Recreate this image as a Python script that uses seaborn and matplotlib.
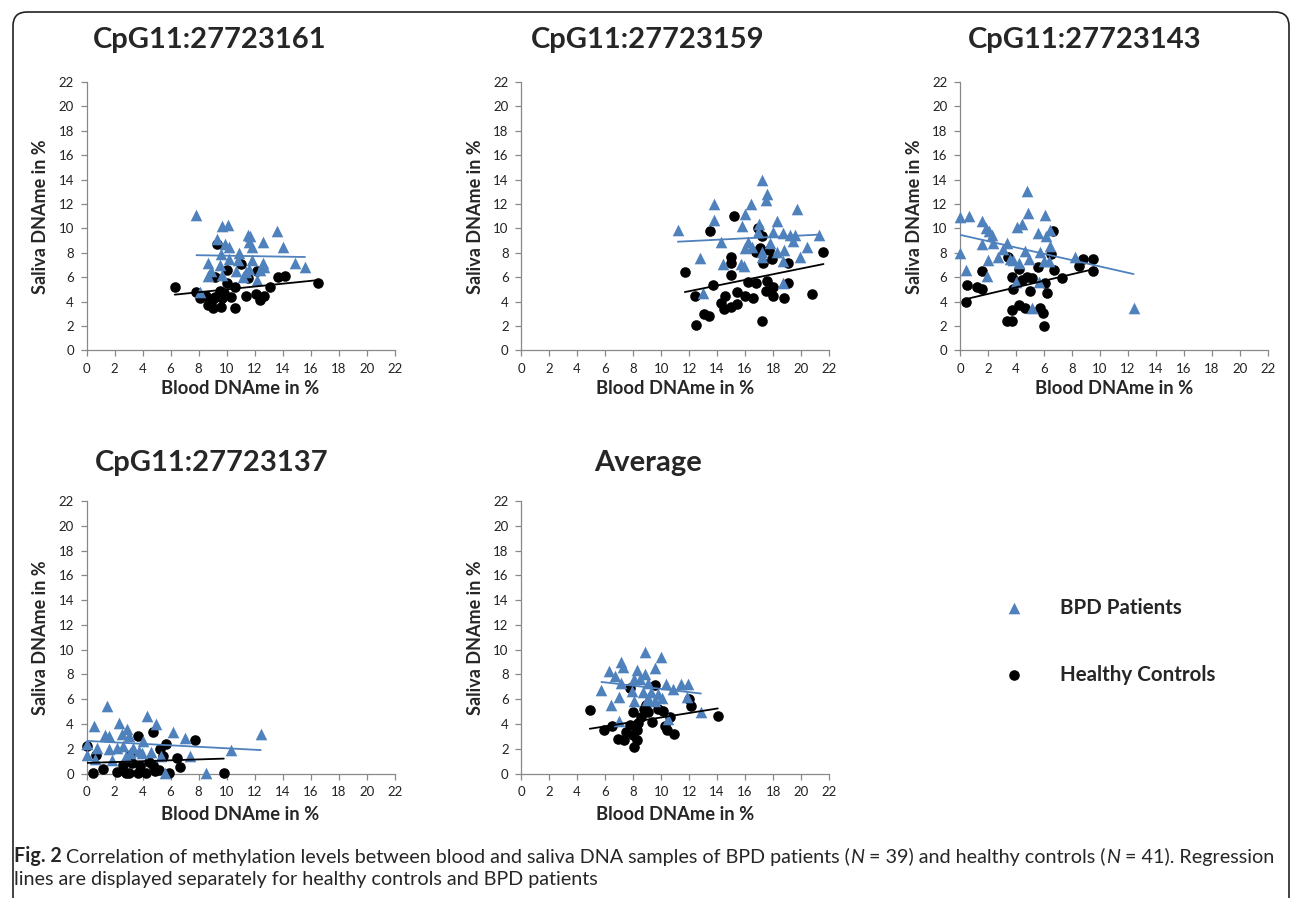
import matplotlib
matplotlib.use("Agg")
import matplotlib.pyplot as plt
from matplotlib.patches import FancyBboxPatch
import seaborn as sns

# ---- data (Blood DNAme %, Saliva DNAme %) ----
titles = ["CpG11:27723161", "CpG11:27723159", "CpG11:27723143", "CpG11:27723137", "Average"]

p1_bpd_x = [7.85, 9.7, 10.1, 11.5, 11.7, 13.6, 9.3, 9.9, 10.2, 11.6, 11.8, 12.6, 14.0, 9.6, 10.9, 8.7, 10.2,
            10.8, 11.8, 12.6, 14.9, 15.6, 8.9, 9.5, 10.7, 11.6, 12.7, 8.7, 9.7, 11.2, 11.4, 12.2, 8.1, 12.4]
p1_bpd_y = [11.1, 10.2, 10.3, 9.5, 9.4, 9.8, 9.1, 8.7, 8.5, 8.9, 8.5, 8.9, 8.5, 7.9, 8.0, 7.2, 7.5,
            7.4, 7.4, 7.2, 7.2, 6.8, 6.5, 7.0, 6.5, 6.7, 6.8, 6.1, 6.2, 6.0, 6.4, 5.8, 4.8, 6.6]
p1_hc_x = [6.3, 7.8, 8.1, 8.7, 9.0, 9.6, 9.2, 9.5, 9.8, 10.3, 10.6, 10.6, 10.0, 10.0, 9.3, 9.2, 11.0, 11.5,
           11.4, 12.1, 12.4, 12.7, 12.2, 13.1, 13.7, 14.2, 16.5, 8.5, 9.7, 9.0]
p1_hc_y = [5.2, 4.8, 4.3, 3.7, 3.5, 3.6, 4.4, 4.9, 4.7, 4.4, 5.2, 3.5, 5.5, 6.6, 8.7, 6.0, 7.1, 5.9,
           4.5, 4.6, 4.1, 4.5, 6.5, 5.2, 6.0, 6.1, 5.5, 4.5, 4.3, 4.25]

p2_bpd_x = [17.2, 17.6, 17.5, 13.8, 16.4, 19.7, 16.0, 13.8, 15.8, 17.0, 18.3, 11.2, 16.9, 18.0, 18.7, 19.2,
            19.6, 21.3, 14.3, 16.2, 17.8, 19.4, 20.4, 16.0, 16.5, 18.3, 18.8, 17.2, 19.9, 12.8, 14.4, 15.7,
            15.9, 17.2, 18.7, 18.7, 13.0]
p2_bpd_y = [14.0, 12.8, 12.3, 12.0, 12.0, 11.6, 11.2, 10.7, 10.2, 10.4, 10.6, 9.9, 9.7, 9.7, 9.6, 9.5,
            9.5, 9.5, 8.9, 8.9, 8.8, 9.0, 8.5, 8.4, 8.5, 8.1, 8.2, 8.1, 7.7, 7.6, 7.1, 7.1,
            6.9, 7.7, 7.3, 5.5, 4.7]
p2_hc_x = [15.2, 13.5, 16.9, 17.2, 16.8, 17.1, 17.7, 17.9, 17.3, 19.1, 21.6, 15.0, 15.0, 15.0, 11.7, 13.7,
           16.2, 16.8, 17.6, 19.1, 18.0, 17.5, 18.0, 18.8, 20.8, 16.6, 16.0, 15.4, 14.6, 12.4, 14.3, 14.5,
           15.0, 15.4, 13.1, 13.4, 12.5, 17.2]
p2_hc_y = [11.0, 9.8, 10.0, 9.4, 8.1, 8.4, 8.2, 7.5, 7.2, 7.2, 8.1, 7.7, 7.2, 6.2, 6.4, 5.4,
           5.6, 5.5, 5.7, 5.5, 5.2, 4.9, 4.5, 4.3, 4.6, 4.3, 4.5, 4.8, 4.5, 4.5, 3.9, 3.4,
           3.6, 3.8, 3.0, 2.8, 2.1, 2.4]

p3_bpd_x = [4.78, 0.0, 0.67, 4.88, 6.05, 1.6, 4.43, 4.07, 1.84, 2.1, 2.27, 6.46, 5.55, 6.15, 1.55, 2.39,
            3.35, 3.11, 6.41, 0.0, 4.62, 5.74, 2.75, 3.59, 4.95, 8.2, 2.03, 3.78, 4.23, 5.98, 6.39, 0.41,
            1.91, 4.02, 5.62, 5.14, 12.4]
p3_bpd_y = [13.1, 10.95, 11.0, 11.3, 11.1, 10.6, 10.4, 10.1, 10.0, 9.8, 9.5, 9.9, 9.6, 9.4, 8.7, 8.8,
            8.8, 8.3, 8.6, 7.96, 8.15, 8.1, 7.7, 7.5, 7.5, 7.65, 7.4, 7.4, 7.2, 7.3, 7.3, 6.6,
            6.1, 5.6, 5.6, 3.45, 3.45]
p3_hc_x = [6.65, 6.5, 3.4, 8.8, 9.5, 9.5, 8.5, 6.75, 4.19, 5.6, 1.55, 3.7, 4.78, 5.14, 7.3, 6.05,
           0.48, 1.2, 1.55, 3.78, 4.98, 6.2, 4.4, 0.43, 4.19, 4.67, 3.71, 5.7, 5.93, 3.35, 3.71, 6.0]
p3_hc_y = [9.8, 7.9, 7.7, 7.5, 7.5, 6.5, 6.9, 6.6, 6.7, 6.8, 6.5, 6.0, 6.06, 5.9, 5.9, 5.5,
           5.4, 5.2, 5.0, 5.0, 4.9, 4.7, 5.8, 4.0, 3.7, 3.5, 3.3, 3.5, 3.1, 2.4, 2.4, 2.0]

p4_bpd_x = [1.44, 4.3, 0.55, 2.32, 4.98, 2.87, 2.56, 6.17, 12.44, 1.32, 1.63, 3.06, 7.06, 4.02, 0.0, 0.72,
            1.63, 2.15, 2.63, 3.35, 3.71, 3.11, 4.6, 5.31, 7.42, 10.33, 0.0, 0.6, 1.79, 2.8, 3.95, 5.6, 8.56]
p4_bpd_y = [5.46, 4.65, 3.83, 4.05, 3.97, 3.56, 3.23, 3.37, 3.23, 3.13, 3.07, 3.0, 2.88, 2.6, 2.4, 2.07,
            1.98, 2.07, 2.2, 2.07, 1.8, 1.66, 1.7, 1.39, 1.39, 1.93, 1.52, 1.17, 1.09, 1.44, 1.66, 0.03, 0.03]
p4_hc_x = [0.0, 3.7, 4.78, 5.7, 7.73, 5.26, 6.46, 6.7, 9.8, 0.67, 0.48, 1.15, 2.15, 2.8, 3.7, 4.26,
           4.9, 5.86, 2.58, 3.23, 3.83, 4.43, 4.74, 5.14, 5.45, 3.11, 3.06]
p4_hc_y = [2.2, 3.0, 3.37, 2.4, 2.7, 1.98, 1.25, 0.49, 0.08, 1.47, 0.08, 0.38, 0.11, 0.08, 0.08, 0.08,
           0.24, 0.08, 0.7, 0.84, 0.57, 0.9, 0.7, 0.3, 1.39, 1.52, 0.08]

p5_bpd_x = [8.84, 9.99, 7.13, 7.3, 6.29, 6.7, 8.25, 9.56, 8.84, 8.08, 8.49, 9.08, 7.17, 10.32, 11.42, 11.95,
            10.87, 5.74, 7.89, 8.73, 9.27, 9.8, 7.0, 9.04, 10.1, 11.83, 8.08, 8.96, 9.56, 6.41, 12.85, 10.47, 7.0]
p5_bpd_y = [9.84, 9.38, 8.97, 8.56, 8.29, 7.88, 8.37, 8.48, 8.0, 7.6, 7.6, 7.34, 7.28, 7.26, 7.2, 7.26,
            6.85, 6.71, 6.66, 6.58, 6.58, 6.39, 6.17, 6.11, 6.11, 6.17, 5.84, 5.9, 5.84, 5.52, 4.97, 4.4, 4.21]
p5_hc_x = [4.91, 9.6, 7.77, 8.01, 8.8, 9.08, 8.6, 8.37, 9.32, 9.8, 10.16, 10.63, 12.0, 12.14, 14.05, 5.93,
           6.53, 7.77, 7.53, 6.93, 7.37, 8.01, 8.25, 8.08, 8.25, 10.28, 10.4, 10.95, 8.89]
p5_hc_y = [5.1, 7.12, 6.93, 4.95, 5.22, 4.95, 4.57, 4.08, 4.13, 5.22, 5.03, 4.57, 6.03, 5.43, 4.62, 3.53,
           3.8, 3.94, 3.32, 2.77, 2.72, 3.13, 2.72, 2.12, 3.53, 3.8, 3.53, 3.18, 5.57]

ticks = list(range(0, 23, 2))
BLUE = "#4F81BD"
GREY = "#888888"

sns.set_theme(style="white")
plt.rcParams["font.family"] = ["Lato", "DejaVu Sans"]

fig = plt.figure(figsize=(12.92, 8.98), dpi=100)

# panel placement (figure fractions)
lefts = [0.0670, 0.4033, 0.7430, 0.0670, 0.4033]
bottoms = [0.6097, 0.6097, 0.6097, 0.1386, 0.1386]
heights = [0.299, 0.299, 0.299, 0.3035, 0.3035]
title_pos = [(0.1625, 0.9555), (0.5015, 0.9555), (0.8398, 0.9555), (0.1635, 0.4845), (0.5015, 0.4845)]

panels = [
    (p1_bpd_x, p1_bpd_y, p1_hc_x, p1_hc_y),
    (p2_bpd_x, p2_bpd_y, p2_hc_x, p2_hc_y),
    (p3_bpd_x, p3_bpd_y, p3_hc_x, p3_hc_y),
    (p4_bpd_x, p4_bpd_y, p4_hc_x, p4_hc_y),
    (p5_bpd_x, p5_bpd_y, p5_hc_x, p5_hc_y),
]

handles = None
for i, (bx, by, hx, hy) in enumerate(panels):
    ax = fig.add_axes([lefts[i], bottoms[i], 0.2384, heights[i]])
    sns.scatterplot(x=hx, y=hy, ax=ax, color="black", marker="o", s=58, linewidth=0,
                    clip_on=False, zorder=3, label="Healthy Controls")
    sns.scatterplot(x=bx, y=by, ax=ax, color=BLUE, marker="^", s=70, linewidth=0,
                    clip_on=False, zorder=4, label="BPD Patients")
    sns.regplot(x=bx, y=by, ax=ax, scatter=False, ci=None, color=BLUE,
                line_kws={"lw": 1.3, "zorder": 5})
    sns.regplot(x=hx, y=hy, ax=ax, scatter=False, ci=None, color="black",
                line_kws={"lw": 1.3, "zorder": 5})
    if handles is None:
        handles, labels = ax.get_legend_handles_labels()
    ax.get_legend().remove()

    ax.set_xlim(0, 22)
    ax.set_ylim(0, 22)
    ax.set_xticks(ticks)
    ax.set_yticks(ticks)
    for side in ["top", "right"]:
        ax.spines[side].set_visible(False)
    for side in ["left", "bottom"]:
        ax.spines[side].set_color(GREY)
        ax.spines[side].set_linewidth(0.9)
    ax.tick_params(direction="out", length=4, width=0.9, color=GREY, labelsize=9.5,
                   labelcolor="#222222", bottom=True, left=True, pad=5)
    ax.set_xlabel("Blood DNAme in %", fontsize=13.2, fontweight="bold", va="center")
    ax.set_ylabel("Saliva DNAme in %", fontsize=13, fontweight="bold", va="center")
    ax.xaxis.set_label_coords(0.5, -0.143 if i < 3 else -0.150)
    ax.yaxis.set_label_coords(-0.148, 0.5)

    fig.text(title_pos[i][0], title_pos[i][1], titles[i], ha="center", va="center",
             fontsize=21, fontweight="bold")

# legend, BPD first
leg = fig.legend([handles[1], handles[0]], [labels[1], labels[0]], loc="center left",
                 bbox_to_anchor=(0.769, 0.286), frameon=False, labelspacing=2.3,
                 handletextpad=1.75, handlelength=1.0, borderpad=0,
                 prop={"family": ["Lato", "DejaVu Sans"], "weight": "bold", "size": 14.8})

# caption, pieces chained so the italic N sits inline
cap_font = ["Lato", "DejaVu Sans"]
cap_size = 14.2
t0 = fig.text(0.0105, 1 - 856 / 898, "Fig. 2", fontsize=cap_size, fontweight="bold",
              family=cap_font, va="center", ha="left")
pieces = [
    (" Correlation of methylation levels between blood and saliva DNA samples of BPD patients (", "normal"),
    ("N", "italic"),
    (" = 39) and healthy controls (", "normal"),
    ("N", "italic"),
    (" = 41). Regression", "normal"),
]
prev = t0
for txt, style in pieces:
    prev = fig.axes[0].annotate(txt, xy=(1, 0), xycoords=prev, fontsize=cap_size, family=cap_font,
                                style=style, va="bottom", ha="left", annotation_clip=False)
fig.text(0.0105, 1 - 880 / 898, "lines are displayed separately for healthy controls and BPD patients",
         fontsize=cap_size, family=cap_font, va="center", ha="left")

# rounded outer frame (top and sides visible)
frame = FancyBboxPatch((13, -30), 1276, 898 - 12 + 30, boxstyle="round,pad=0,rounding_size=14",
                       transform=None, fill=False, edgecolor="#222222", linewidth=1.2)
fig.patches.append(frame)

fig.savefig("out.png", dpi=100)
